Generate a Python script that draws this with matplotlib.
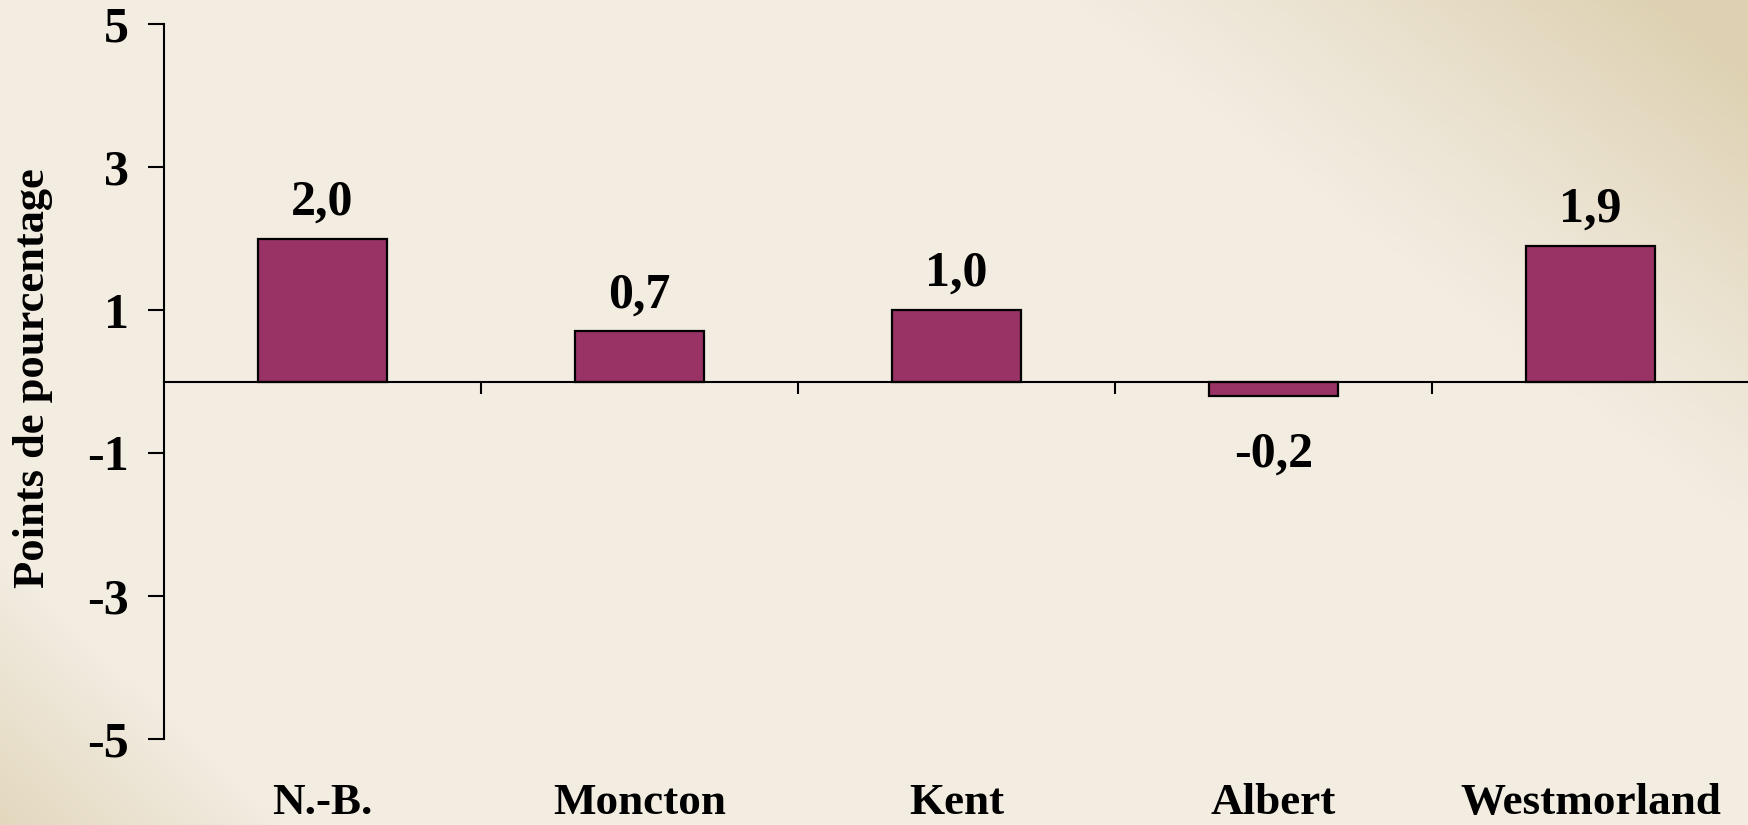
import numpy as np
import matplotlib
import matplotlib.pyplot as plt
from matplotlib.colors import LinearSegmentedColormap

matplotlib.use('Agg')

# data
categories = ['N.-B.', 'Moncton', 'Kent', 'Albert', 'Westmorland']
values = [2.0, 0.7, 1.0, -0.2, 1.9]
yticks = [5, 3, 1, -1, -3, -5]
ylabel = 'Points de pourcentage'

BAR_COLOR = '#993366'
BG = '#F2ECE1'

plt.rcParams['font.family'] = ['Liberation Serif', 'DejaVu Serif']
plt.rcParams['font.weight'] = 'bold'

fig = plt.figure(figsize=(17.49, 8.25), dpi=100)
fig.patch.set_facecolor(BG)

# soft background shading (darker toward top-right and bottom-left corners)
bg_ax = fig.add_axes([0, 0, 1, 1], zorder=-10)
gx, gy = np.meshgrid(np.linspace(0, 1, 400), np.linspace(0, 1, 200))
tr = np.clip((gx - 0.84) * 3.0 + (gy - 0.62) * 1.8, 0, 1) ** 1.2
bl = np.clip((0.10 - gx) * 6 + (0.12 - gy) * 3, 0, 1)
shade = np.maximum(tr * 0.9, bl * 0.7)
cmap = LinearSegmentedColormap.from_list('bg', [BG, '#DCCFAE'])
bg_ax.imshow(shade, cmap=cmap, origin='lower', aspect='auto',
             extent=[0, 1, 0, 1], vmin=0, vmax=1)
bg_ax.axis('off')

ax = fig.add_axes([164 / 1749, 1 - 739 / 825, 1 - 164 / 1749, (739 - 24) / 825])
ax.set_facecolor('none')

x = np.arange(len(categories))
ax.bar(x, values, width=0.41, color=BAR_COLOR, edgecolor='black', linewidth=1.6, zorder=3)

ax.set_xlim(-0.5, len(categories) - 0.5)
ax.set_ylim(-5, 5)

# spines
ax.spines['top'].set_visible(False)
ax.spines['right'].set_visible(False)
ax.spines['bottom'].set_position(('data', 0))
ax.spines['bottom'].set_linewidth(1.5)
ax.spines['left'].set_linewidth(1.5)
ax.spines['bottom'].set_zorder(4)

# y ticks
ax.set_yticks(yticks)
ax.set_yticklabels([str(t) for t in yticks], fontsize=36, fontweight='bold')
ax.tick_params(axis='y', length=11.5, width=1.5, pad=14, direction='out')

# x ticks at category boundaries, labels drawn at bottom
ax.set_xticks(np.arange(0.5, len(categories) - 0.5, 1.0))
ax.set_xticklabels([])
ax.tick_params(axis='x', length=8.5, width=1.5, direction='out')

for xi, name in zip(x, categories):
    ax.text(xi, -5.9, name, ha='center', va='center', fontsize=32.5, fontweight='bold')

# value labels
for xi, v in zip(x, values):
    txt = f'{v:.1f}'.replace('.', ',')
    if v >= 0:
        ax.annotate(txt, (xi, v), xytext=(0, 26), textcoords='offset points',
                    ha='center', va='center', fontsize=36, fontweight='bold')
    else:
        ax.annotate(txt, (xi, v), xytext=(0, -42), textcoords='offset points',
                    ha='center', va='center', fontsize=36, fontweight='bold')

fig.text(33 / 1749, 1 - 378 / 825, ylabel, rotation=90, ha='center', va='center',
         fontsize=32, fontweight='bold')

fig.savefig('out.png', dpi=100, facecolor=fig.get_facecolor())
